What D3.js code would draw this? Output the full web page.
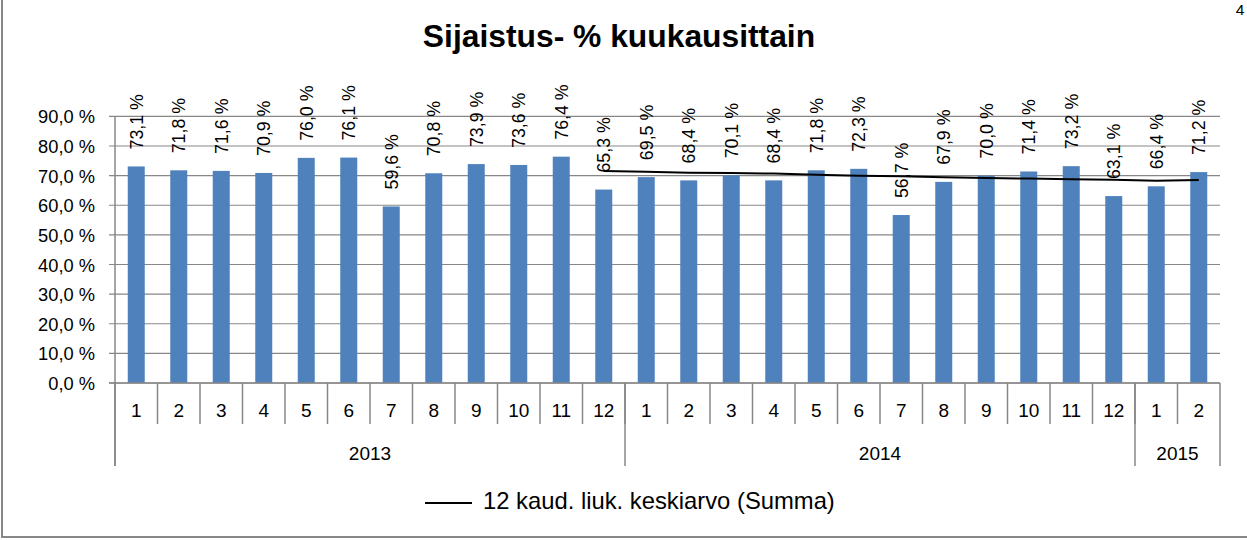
<!DOCTYPE html>
<html><head><meta charset="utf-8">
<script src="https://cdn.jsdelivr.net/npm/d3@7/dist/d3.min.js"></script>
<style>
html,body{margin:0;padding:0;background:#fff;}
svg{display:block;font-family:"Liberation Sans",Arial,sans-serif;}
</style></head>
<body><svg id="c" width="1247" height="540"></svg>
<script>
const months = ["1","2","3","4","5","6","7","8","9","10","11","12","1","2","3","4","5","6","7","8","9","10","11","12","1","2"];
const years = ["2013","2014","2015"];
const yearSpans = [12, 12, 2];
const values = [73.1,71.8,71.6,70.9,76.0,76.1,59.6,70.8,73.9,73.6,76.4,65.3,
                69.5,68.4,70.1,68.4,71.8,72.3,56.7,67.9,70.0,71.4,73.2,63.1,
                66.4,71.2];
const maStart = 11;
const movingAvg = [71.6,71.3,71.0,70.9,70.7,70.3,70.0,69.8,69.5,69.2,69.0,68.8,68.6,68.3,68.5];
const yTicks = [0,10,20,30,40,50,60,70,80,90];
const title = "Sijaistus- % kuukausittain";
const legendLabel = "12 kaud. liuk. keskiarvo (Summa)";
const pageNumber = "4";

const fmt = v => v.toFixed(1).replace(".", ",") + " %";
const svg = d3.select("#c");
const L = 115, R = 1220, T = 116.4, B = 383;

// outer border
svg.append("rect").attr("x", 2).attr("y", -5).attr("width", 1260).attr("height", 542)
  .attr("fill", "none").attr("stroke", "#878787").attr("stroke-width", 2);

svg.append("text").attr("x", 1240).attr("y", 14.5).attr("text-anchor", "middle")
  .attr("font-size", 15.5).attr("fill", "#000").text(pageNumber);

const x = d3.scaleBand().domain(d3.range(values.length)).range([L, R]).padding(0);
const y = d3.scaleLinear().domain([0, 90]).range([B, T]);

// gridlines
svg.append("g").selectAll("line").data(yTicks).join("line")
  .attr("x1", L - 6).attr("x2", R).attr("y1", d => y(d)).attr("y2", d => y(d))
  .attr("stroke", "#878787").attr("stroke-width", 1.2);

// y axis
const yAxis = d3.axisLeft(y).tickValues(yTicks).tickSize(0).tickPadding(20)
  .tickFormat(d => d.toFixed(1).replace(".", ",") + " %");
const gy = svg.append("g").attr("transform", `translate(${L},0)`).call(yAxis);
gy.select(".domain").remove();
gy.selectAll("text").attr("font-size", 18.3).attr("fill", "#000").attr("dy", "0.36em");

// axis line vertical
svg.append("line").attr("x1", L).attr("x2", L).attr("y1", T).attr("y2", 466)
  .attr("stroke", "#878787").attr("stroke-width", 1.5);

// bars
const bw = 17;
svg.append("g").selectAll("rect").data(values).join("rect")
  .attr("x", (d, i) => x(i) + x.bandwidth() / 2 - bw / 2)
  .attr("y", d => y(d)).attr("width", bw).attr("height", d => B - y(d))
  .attr("fill", "#4F81BD");

// moving average
const line = d3.line().x((d, i) => x(i + maStart) + x.bandwidth() / 2).y(d => y(d));
svg.append("path").datum(movingAvg).attr("d", line)
  .attr("fill", "none").attr("stroke", "#000").attr("stroke-width", 2);

// data labels
svg.append("g").selectAll("text").data(values).join("text")
  .attr("transform", (d, i) => `translate(${x(i) + x.bandwidth() / 2 + 6.5},${y(d) - 17}) rotate(-90)`)
  .attr("font-size", 17.8).attr("fill", "#000").text(d => fmt(d));

// x axis line
svg.append("line").attr("x1", L - 6).attr("x2", R).attr("y1", B).attr("y2", B)
  .attr("stroke", "#878787").attr("stroke-width", 1.5);

// month separators
svg.append("g").selectAll("line").data(d3.range(1, values.length)).join("line")
  .attr("x1", i => x(i)).attr("x2", i => x(i)).attr("y1", B).attr("y2", 424)
  .attr("stroke", "#878787").attr("stroke-width", 1.5);
svg.append("g").selectAll("text").data(months).join("text")
  .attr("x", (d, i) => x(i) + x.bandwidth() / 2).attr("y", 417)
  .attr("text-anchor", "middle").attr("font-size", 19).attr("fill", "#000").text(d => d);

// year separators
let cum = [0];
yearSpans.forEach(s => cum.push(cum[cum.length - 1] + s));
svg.append("g").selectAll("line").data(cum).join("line")
  .attr("x1", i => i < values.length ? x(i) : R).attr("x2", i => i < values.length ? x(i) : R)
  .attr("y1", B).attr("y2", 466).attr("stroke", "#878787").attr("stroke-width", 1.5);
svg.append("g").selectAll("text").data(years).join("text")
  .attr("x", (d, i) => {
    const a = x(cum[i]);
    const b = cum[i + 1] < values.length ? x(cum[i + 1]) : R;
    return (a + b) / 2;
  }).attr("y", 460).attr("text-anchor", "middle").attr("font-size", 19).attr("fill", "#000").text(d => d);

// title
svg.append("text").attr("x", 619).attr("y", 47).attr("text-anchor", "middle")
  .attr("font-size", 31.8).attr("font-weight", "bold").attr("fill", "#000").text(title);

// legend
svg.append("line").attr("x1", 425).attr("x2", 472).attr("y1", 503).attr("y2", 503)
  .attr("stroke", "#000").attr("stroke-width", 2);
svg.append("text").attr("x", 483).attr("y", 509).attr("font-size", 23.8)
  .attr("fill", "#000").text(legendLabel);
</script></body></html>
